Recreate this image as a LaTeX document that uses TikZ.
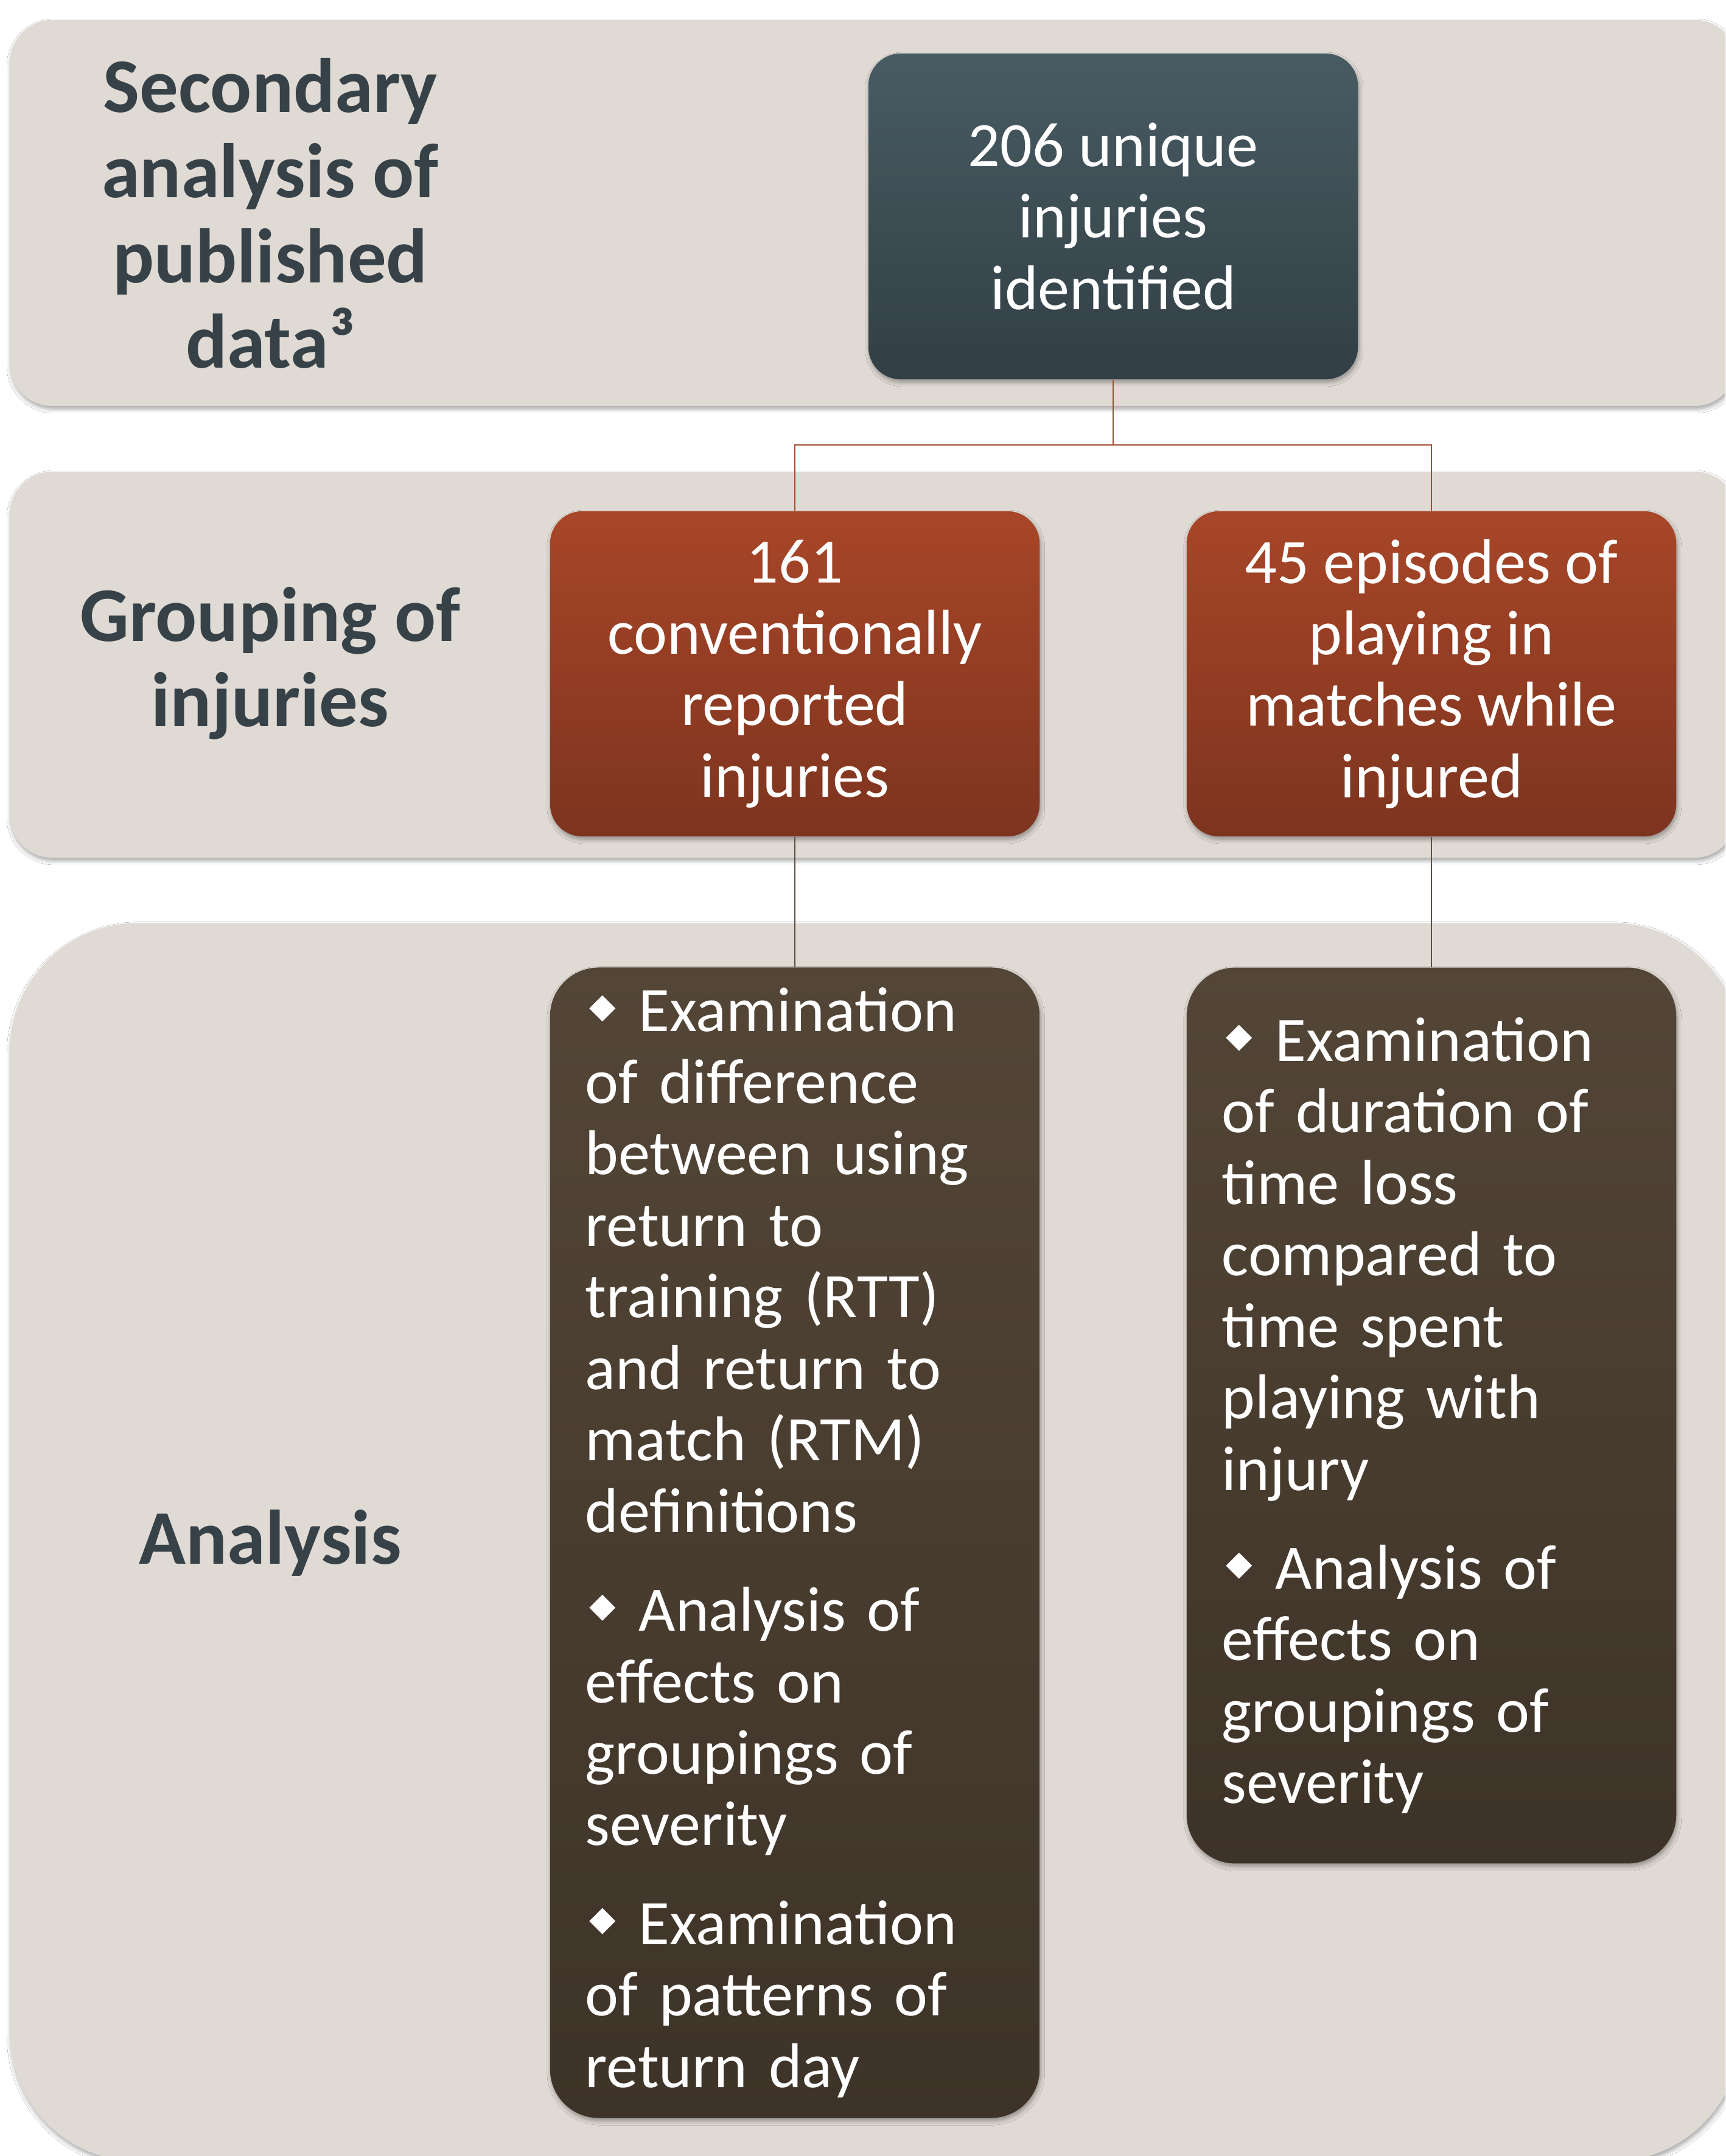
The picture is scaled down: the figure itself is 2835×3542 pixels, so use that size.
\documentclass[tikz,border=0pt]{standalone}
\usepackage{fontspec}
\setmainfont{Carlito}
\usetikzlibrary{shadows.blur}
\definecolor{bandfill}{RGB}{224,218,212}
\definecolor{slateT}{RGB}{72,91,99}
\definecolor{slateB}{RGB}{50,63,69}
\definecolor{redT}{RGB}{168,70,40}
\definecolor{redB}{RGB}{125,52,31}
\definecolor{brownT}{RGB}{83,70,55}
\definecolor{brownB}{RGB}{62,51,40}
\definecolor{labelc}{RGB}{55,66,72}
\definecolor{connA}{RGB}{160,78,52}
\definecolor{connB}{RGB}{92,80,70}
\newcommand{\dmd}{\hspace*{1.85pt}\makebox[23.2pt][l]{\tikz[x=1pt,y=1pt,baseline=-4.8pt,sharp corners]\fill[white,sharp corners] (6.1,0)--(12.2,6.1)--(6.1,12.2)--(0,6.1)--cycle;}}
\begin{document}
\begin{tikzpicture}[x=0.01cm,y=-0.01cm,
  softshadow/.style={blur shadow={shadow xshift=0.5pt, shadow yshift=-1.4pt, shadow blur steps=6, shadow opacity=35}},
  band/.style={fill=bandfill, draw=none, inner sep=0, softshadow},
  lab/.style={text=labelc, font=\fontsize{36.1}{39.8}\selectfont\bfseries, align=center, inner sep=0},
  box/.style={minimum width=8.04cm, inner sep=0, text=white, font=\fontsize{29.6}{33.4}\selectfont, softshadow},
  slatebox/.style={box, align=center, minimum height=5.35cm, rounded corners=0.53cm, top color=slateT, bottom color=slateB},
  redbox/.style={box, align=center, minimum height=5.34cm, rounded corners=0.53cm, top color=redT, bottom color=redB},
  brownbox/.style={box, align=left, text width=6.88cm, rounded corners=0.8cm, top color=brownT, bottom color=brownB},
  connupper/.style={draw=connA, line width=0.75pt},
  connlower/.style={draw=connB, line width=0.75pt}
]
\useasboundingbox (0,0) rectangle (2835,3542);
\fill[white] (0,0) rectangle (2835,3542);
\clip (0,0) rectangle (2835,3542);

% bands
\node[band, minimum width=28.36cm, minimum height=6.34cm, rounded corners=0.7cm] (b1) at (1435,350) {};
\node[band, minimum width=28.36cm, minimum height=6.34cm, rounded corners=0.7cm] (b2) at (1435,1092) {};
\node[band, minimum width=28.42cm, minimum height=20.33cm, rounded corners=2.1cm] (b3) at (1438,2533.5) {};

% row labels
\node[lab] (l1) at (444,350) {Secondary\\analysis of\\published\\data³};
\node[lab] (l2) at (444,1090) {Grouping of\\injuries};
\node[lab] (l3) at (444,2535) {Analysis};

% boxes
\node[slatebox] (top) at (1829,355.5) {206 unique\\injuries\\identified};
\node[redbox] (red1) at (1306,1107) {161\\conventionally\\reported\\injuries};
\node[redbox] (red2) at (2352,1107) {45 episodes of\\playing in\\matches while\\injured};

\node[brownbox, minimum height=18.89cm] (an1) at (1306,2534.5) {\dmd Examination\\of difference\\between using\\return to\\training (RTT)\\and return to\\match (RTM)\\definitions\\[12.8pt]\dmd Analysis of\\effects on\\groupings of\\severity\\[12.8pt]\dmd Examination\\of patterns of\\return day};
\node[brownbox, minimum height=14.71cm] (an2) at (2352,2325.5) {\dmd Examination\\of duration of\\time loss\\compared to\\time spent\\playing with\\injury\\[12.8pt]\dmd Analysis of\\effects on\\groupings of\\severity};

% connectors
\coordinate (hub) at (1829,731);
\draw[connupper] (top.south) -- (hub) -| (red1.north);
\draw[connupper] (hub) -| (red2.north);
\draw[connlower] (red1.south) -- (an1.north);
\draw[connlower] (red2.south) -- (an2.north);
\end{tikzpicture}
\end{document}
